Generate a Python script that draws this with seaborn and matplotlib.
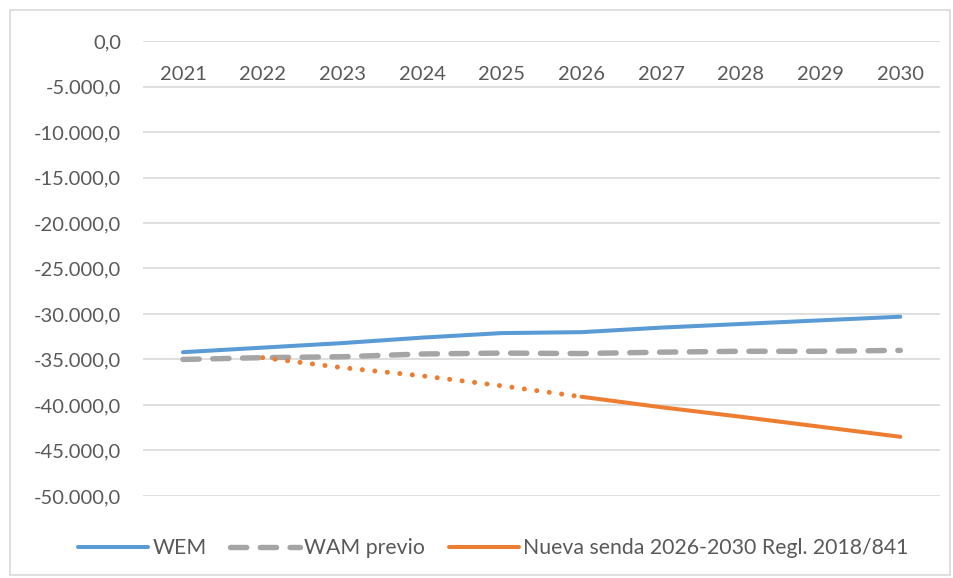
import pandas as pd
import seaborn as sns
import matplotlib.pyplot as plt
from matplotlib.ticker import FuncFormatter
from matplotlib.lines import Line2D
from matplotlib.patches import Rectangle

sns.set_style("white")
plt.rcParams['font.family'] = ['Lato', 'DejaVu Sans']

years = [2021, 2022, 2023, 2024, 2025, 2026, 2027, 2028, 2029, 2030]
wem = [-34200, -33700, -33200, -32600, -32100, -32000, -31500, -31100, -30700, -30300]
wam_previo = [-35000, -34800, -34700, -34400, -34300, -34350, -34200, -34100, -34100, -34000]
# senda: tramo punteado 2022-2026 y tramo continuo 2026-2030
senda_years_dot = [2022, 2023, 2024, 2025, 2026]
senda_dot = [-34800, -35900, -36800, -37900, -39100]
senda_years = [2026, 2027, 2028, 2029, 2030]
senda = [-39100, -40250, -41300, -42400, -43500]

C_WEM = '#5B9BD5'
C_WAM = '#A5A5A5'
C_SENDA = '#ED7D31'
TXT = '#595959'

fig = plt.figure(figsize=(9.54, 5.78), dpi=100)
ax = fig.add_axes([0.15, 0.142, 0.8355, 0.787])

# marco exterior del gráfico
fig.patches.append(Rectangle((10 / 954, 3 / 578), 940 / 954, 565 / 578, transform=fig.transFigure,
                             fill=False, edgecolor='#D9D9D9', linewidth=1.2))

sns.lineplot(x=years, y=wem, ax=ax, color=C_WEM, linewidth=2.9, solid_capstyle='round')
sns.lineplot(x=years, y=wam_previo, ax=ax, color=C_WAM, linewidth=3.9,
             linestyle=(0, (3.0, 2.5)), dash_capstyle='round')
sns.lineplot(x=senda_years_dot, y=senda_dot, ax=ax, color=C_SENDA, linewidth=3.6,
             linestyle=(0, (0.01, 2.5)), dash_capstyle='round')
sns.lineplot(x=senda_years, y=senda, ax=ax, color=C_SENDA, linewidth=2.9, solid_capstyle='round')

ax.set_xlim(2020.5, 2030.5)
ax.set_ylim(-50000, 0)
ax.set_yticks(range(-50000, 1, 5000))
ax.set_xticks(years)


def fmt_es(v, pos):
    s = f"{abs(v):,.1f}".replace(',', 'X').replace('.', ',').replace('X', '.')
    return ('-' if v < 0 else '') + s


ax.yaxis.set_major_formatter(FuncFormatter(fmt_es))
ax.grid(axis='y', color='#D9D9D9', linewidth=1.2)
ax.grid(axis='x', visible=False)
for s in ax.spines.values():
    s.set_visible(False)

ax.tick_params(axis='y', length=0, pad=16, labelsize=14.5, labelcolor=TXT)
ax.tick_params(axis='x', length=0, labeltop=True, labelbottom=False, top=False, bottom=False,
               pad=-30, labelsize=14.5, labelcolor=TXT)
ax.set_xlabel('')
ax.set_ylabel('')

handles = [
    Line2D([], [], color=C_WEM, linewidth=2.9),
    Line2D([], [], color=C_WAM, linewidth=3.9, linestyle=(0, (3.0, 2.5)), dash_capstyle='round'),
    Line2D([], [], color=C_SENDA, linewidth=2.9),
]
labels = ['WEM', 'WAM previo', 'Nueva senda 2026-2030 Regl. 2018/841']
leg = fig.legend(handles, labels, loc='center', bbox_to_anchor=(0.517, 0.052), ncol=3, frameon=False,
                 fontsize=15.3, handlelength=3.3, handletextpad=0.2, columnspacing=1.1)
for t in leg.get_texts():
    t.set_color(TXT)

fig.savefig('out.png', dpi=100)
